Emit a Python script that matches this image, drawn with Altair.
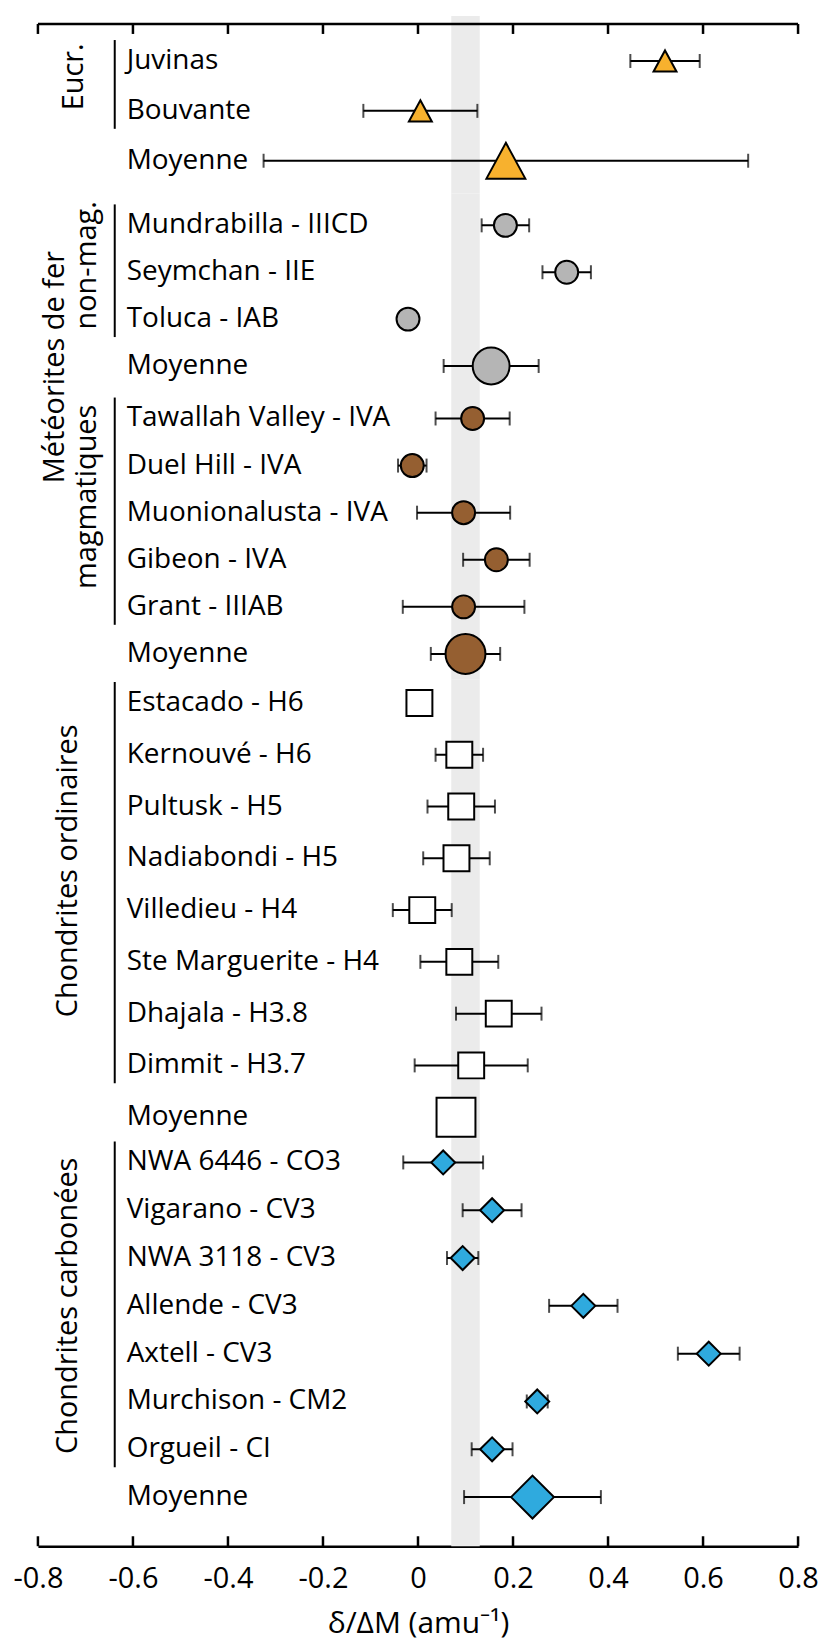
import altair as alt
import pandas as pd

# ---------------- data ----------------
eucr_names = ["Juvinas", "Bouvante", "Moyenne"]
eucr_vals = [0.520, 0.005, 0.185]
eucr_errs = [0.073, 0.120, 0.510]

nonmag_names = ["Mundrabilla - IIICD", "Seymchan - IIE", "Toluca - IAB", "Moyenne"]
nonmag_vals = [0.184, 0.313, -0.021, 0.154]
nonmag_errs = [0.050, 0.051, None, 0.100]

mag_names = ["Tawallah Valley - IVA", "Duel Hill - IVA", "Muonionalusta - IVA",
             "Gibeon - IVA", "Grant - IIIAB", "Moyenne"]
mag_vals = [0.115, -0.012, 0.096, 0.165, 0.096, 0.100]
mag_errs = [0.078, 0.030, 0.098, 0.070, 0.128, 0.073]

ord_names = ["Estacado - H6", "Kernouvé - H6", "Pultusk - H5", "Nadiabondi - H5",
             "Villedieu - H4", "Ste Marguerite - H4", "Dhajala - H3.8", "Dimmit - H3.7", "Moyenne"]
ord_vals = [0.003, 0.087, 0.091, 0.081, 0.009, 0.087, 0.170, 0.112, 0.080]
ord_errs = [None, 0.050, 0.071, 0.070, 0.062, 0.082, 0.090, 0.119, None]

carb_names = ["NWA 6446 - CO3", "Vigarano - CV3", "NWA 3118 - CV3", "Allende - CV3",
              "Axtell - CV3", "Murchison - CM2", "Orgueil - CI", "Moyenne"]
carb_vals = [0.053, 0.156, 0.094, 0.348, 0.612, 0.251, 0.156, 0.241]
carb_errs = [0.084, 0.062, 0.033, 0.072, 0.065, 0.022, 0.043, 0.144]

tick_values = [-0.8, -0.6, -0.4, -0.2, 0.0, 0.2, 0.4, 0.6, 0.8]
band_range = [0.07, 0.13]

group_labels = {
    "eucr": ["Eucr."],
    "nonmag": ["non-mag.", "Météorites de fer"],
    "mag": ["magmatiques"],
    "ord": ["Chondrites ordinaires"],
    "carb": ["Chondrites carbonées"],
}
axis_title = "δ/ΔM (amu⁻¹)"

# ---------------- styling ----------------
FONT = "Open Sans"
TRI = "M0,-0.92L1,0.92L-1,0.92Z"
STYLE = {  # shape, fill, sample size, average size
    "eucr": (TRI, "#F7B12E", 529, 1521),
    "nonmag": ("circle", "#B5B5B5", 529, 1369),
    "mag": ("circle", "#955F31", 529, 1600),
    "ord": ("square", "#FFFFFF", 676, 1521),
    "carb": ("diamond", "#2FAADE", 576, 1849),
}

W = 762
XS = alt.Scale(domain=[-0.8, 0.8], nice=False, zero=False)

xaxis = alt.Axis(
    values=tick_values,
    labelExpr="datum.value == 0 ? '0' : (datum.value < 0 ? '-' + format(-datum.value, '.1f') : format(datum.value, '.1f'))",
    labelFontSize=29, labelColor="black", labelFont=FONT, labelPadding=18,
    labelFlush=False, labelOverlap=False,
    ticks=False, tickSize=0, grid=False,
    domainColor="black", domainWidth=2.5,
    title=axis_title, titleFontSize=30, titleFont=FONT, titleFontWeight="normal",
    titleColor="black", titlePadding=15,
)


def make_df(kind, names, vals, errs):
    rows = []
    for i, (n, v, e) in enumerate(zip(names, vals, errs)):
        rows.append(dict(
            key=f"{kind}{i:02d}", label=n, kind=kind, avg=(n == "Moyenne"), val=v,
            lo=(v - e) if e is not None else None,
            hi=(v + e) if e is not None else None,
        ))
    return pd.DataFrame(rows)


def panel(kind, names, vals, errs, H, pad, align, glabels, first=False, last=False):
    df = make_df(kind, names, vals, errs)
    shape, fill, s_small, s_avg = STYLE[kind]
    ys = alt.Scale(type="point", domain=list(df.key), padding=pad, align=align)
    ax = xaxis if last else None
    Y = alt.Y("key:N", scale=ys, axis=None)

    def X(f):
        return alt.X(f, type="quantitative", scale=XS, axis=ax)

    layers = []
    band_df = pd.DataFrame({"lo": [band_range[0]], "hi": [band_range[1]]})
    layers.append(alt.Chart(band_df).mark_rect(color="#EBEBEB").encode(
        x=X("lo"), x2=alt.X2("hi"),
        y=alt.value(-8 if first else 0), y2=alt.value(H)))

    tdf = pd.DataFrame({"t": tick_values})
    if first:
        layers.append(alt.Chart(tdf.head(1)).mark_rule(color="black", strokeWidth=2.5).encode(
            x=alt.value(0), x2=alt.value(W), y=alt.value(0)))
        layers.append(alt.Chart(tdf).mark_rule(color="black", strokeWidth=2.5).encode(
            x=X("t"), y=alt.value(0), y2=alt.value(10)))
        layers.append(alt.Chart(tdf.head(1)).mark_rule(strokeOpacity=0).encode(
            x=alt.value(-28), y=alt.value(0), y2=alt.value(1)))
    if last:
        layers.append(alt.Chart(tdf).mark_rule(color="black", strokeWidth=2.5).encode(
            x=X("t"), y=alt.value(H - 10), y2=alt.value(H)))

    err = df.dropna(subset=["lo"])
    layers.append(alt.Chart(err).mark_rule(color="black", strokeWidth=2).encode(
        x=X("lo"), x2=alt.X2("hi"), y=Y))
    caps = pd.concat([err[["key", "lo"]].rename(columns={"lo": "v"}),
                      err[["key", "hi"]].rename(columns={"hi": "v"})])
    layers.append(alt.Chart(caps).mark_tick(color="black", thickness=2, size=14).encode(
        x=X("v"), y=Y))

    for is_avg, sz in ((False, s_small), (True, s_avg)):
        sub = df[df.avg == is_avg]
        layers.append(alt.Chart(sub).mark_point(
            filled=True, opacity=1, shape=shape, fill=fill, size=sz,
            stroke="black", strokeWidth=2).encode(x=X("val"), y=Y))

    layers.append(alt.Chart(df).mark_text(align="left", baseline="middle", fontSize=28,
                                          font=FONT, color="black").encode(
        x=alt.value(89), y=Y, text="label:N"))

    samples = df[~df.avg]
    br = pd.DataFrame({"k1": [samples.key.iloc[0]], "k2": [samples.key.iloc[-1]]})
    layers.append(alt.Chart(br).mark_rule(color="black", strokeWidth=2, yOffset=-21, y2Offset=18).encode(
        x=alt.value(77), y=alt.Y("k1:N", scale=ys, axis=None), y2=alt.Y2("k2")))

    for (txt, gx, gy) in glabels:
        gdf = pd.DataFrame({"t": [txt]})
        layers.append(alt.Chart(gdf).mark_text(angle=270, align="center", baseline="alphabetic",
                                               fontSize=29, font=FONT, color="black").encode(
            x=alt.value(gx), y=alt.value(gy), text="t:N"))

    return alt.layer(*layers).properties(width=W, height=H)


p1 = panel("eucr", eucr_names, eucr_vals, eucr_errs, 170, 0.7, 0.53,
           [(group_labels["eucr"][0], 45, 53)], first=True)
p2 = panel("nonmag", nonmag_names, nonmag_vals, nonmag_errs, 200, 0.628, 0.54,
           [(group_labels["nonmag"][0], 58, 72), (group_labels["nonmag"][1], 26, 174)])
p3 = panel("mag", mag_names, mag_vals, mag_errs, 287, 0.54, 0.5,
           [(group_labels["mag"][0], 58, 104)])
p4 = panel("ord", ord_names, ord_vals, ord_errs, 460, 0.4316, 0.529,
           [(group_labels["ord"][0], 39, 192)])
p5 = panel("carb", carb_names, carb_vals, carb_errs, 409, 0.767, 0.33,
           [(group_labels["carb"][0], 39, 168)], last=True)

chart = alt.vconcat(p1, p2, p3, p4, p5, spacing=0, bounds="flush").resolve_scale(
    y="independent", x="shared"
).properties(
    padding={"left": 2, "top": 6, "right": 0, "bottom": 4}
).configure(font=FONT, background="white").configure_view(stroke=None, strokeWidth=0)

chart.save("out.html", embed_options={"renderer": "svg", "actions": False})
